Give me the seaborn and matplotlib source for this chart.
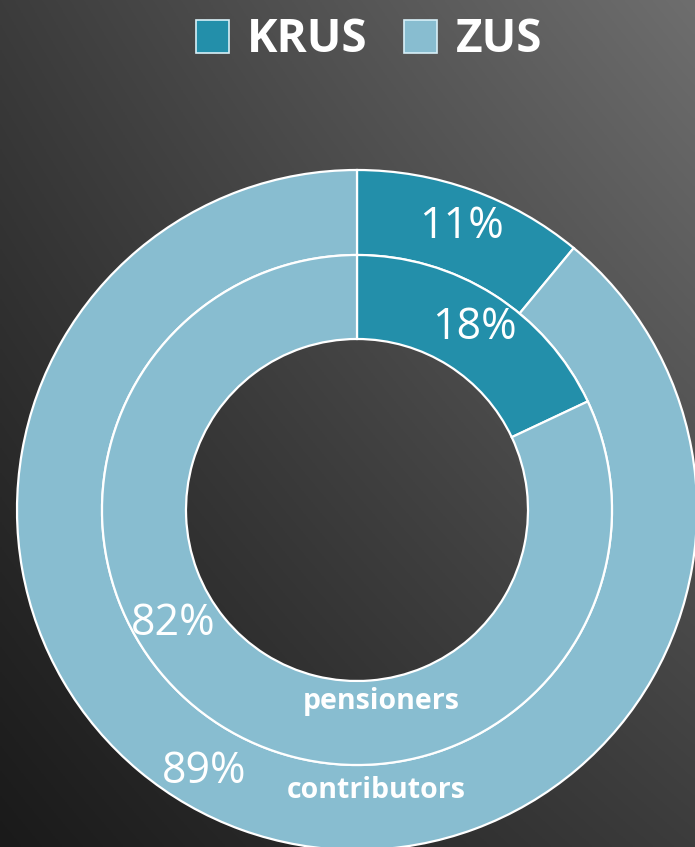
import numpy as np
import matplotlib
matplotlib.use("Agg")
import matplotlib.pyplot as plt
from matplotlib.patches import Patch
import seaborn as sns

# ---- data ----
categories = ["KRUS", "ZUS"]
contributors = [11, 89]   # outer ring
pensioners = [18, 82]     # inner ring
ring_names = ["contributors", "pensioners"]

sns.set_theme(style="white")
plt.rcParams['font.family'] = ['Open Sans', 'DejaVu Sans']

colors = ["#238FAA", "#88BDD0"]

W, H = 695, 847
cx, cy = 357, 510
fig = plt.figure(figsize=(W / 100, H / 100), dpi=100)

# background gradient
bg = fig.add_axes([0, 0, 1, 1], zorder=0)
xn = np.linspace(0, 1, 300)[None, :]
yn = np.linspace(1, 0, 300)[:, None]
v = (26 + 34 * xn + 34 * yn + 16 * xn * yn) / 255.0
img = np.dstack([v, v, v])
bg.imshow(img, extent=[0, 1, 0, 1], aspect='auto', origin='upper')
bg.axis('off')

ax = fig.add_axes([0, 0, 1, 1], zorder=1)
ax.patch.set_alpha(0)

R_out, R_mid, R_in = 340, 255, 171
wedge_kw = dict(edgecolor="white", linewidth=1.6)
ax.pie(contributors, radius=R_out, center=(0, 0), startangle=90, counterclock=False,
       colors=colors, wedgeprops=dict(width=R_out - R_mid, **wedge_kw))
ax.pie(pensioners, radius=R_mid, center=(0, 0), startangle=90, counterclock=False,
       colors=colors, wedgeprops=dict(width=R_mid - R_in, **wedge_kw))

ax.set_xlim(-cx, W - cx)
ax.set_ylim(-(H - cy), cy)
ax.set_aspect('equal')
ax.axis('off')

def polar(r, ang):
    a = np.deg2rad(ang)
    return r * np.cos(a), r * np.sin(a)

pct_kw = dict(color="white", fontsize=31, ha="center", va="center", fontweight="normal")
# KRUS labels at wedge middles
for vals, r in [(contributors, (R_out + R_mid) / 2 + 4), (pensioners, (R_mid + R_in) / 2 + 4)]:
    mid = 90 - vals[0] / 100 * 360 / 2 - 0.5
    x, y = polar(r, mid)
    ax.text(x, y, f"{vals[0]}%", **pct_kw)
# ZUS labels
x, y = polar(303, 239.7)
ax.text(x, y, f"{contributors[1]}%", **pct_kw)
x, y = polar(216, 211.9)
ax.text(x, y, f"{pensioners[1]}%", **pct_kw)

name_kw = dict(color="white", fontsize=20.5, ha="center", va="center", fontweight="bold")
ax.text(376 - cx, cy - 791, ring_names[0], **name_kw)
ax.text(381 - cx, cy - 701, ring_names[1], **name_kw)

handles = [Patch(facecolor=c, edgecolor="#d8f0f8", linewidth=1.2) for c in colors]
leg = fig.legend(handles, categories, loc="center", bbox_to_anchor=(369 / W, 1 - 40 / H),
                 ncol=2, frameon=False, handlelength=0.72, handleheight=0.72,
                 handletextpad=0.4, columnspacing=0.8,
                 prop=dict(family=['Open Sans', 'DejaVu Sans'], weight='bold', size=33))
for t in leg.get_texts():
    t.set_color("white")

fig.savefig("out.png", dpi=100)
